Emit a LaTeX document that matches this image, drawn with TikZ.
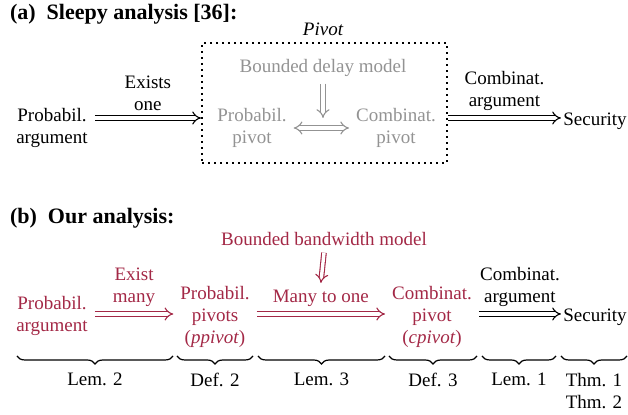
\documentclass[tikz,border=0pt]{standalone}
\usepackage{fontspec}
\setmainfont{Liberation Serif}
\usepackage{xcolor}
\usetikzlibrary{positioning,arrows.meta,decorations.pathreplacing,calc}
\definecolor{pivred}{HTML}{A32846}
\definecolor{oldgray}{HTML}{939393}

\begin{document}
\begin{tikzpicture}[x=0.5pt,y=-0.5pt,
    every node/.style={font=\fontsize{9.5}{11}\selectfont,align=center},
    titletext/.style={font=\fontsize{11}{13}\selectfont\bfseries,anchor=west},
    dblarrow/.style={double,double distance=1.7pt,line width=0.55pt,-{Implies}},
    lemmabrace/.style={decorate,decoration={brace,mirror,amplitude=4pt},line width=0.6pt}]
    \useasboundingbox (0,0) rectangle (628,415);

    % (a) Sleepy analysis
    \node[titletext] (tita) at (3,14) {(a)\enspace Sleepy analysis [36]:};
    \coordinate (ra) at (0,118);
    \node[draw,dotted,line width=1pt,minimum width=122.5pt,minimum height=60pt] (pivbox) at (324.5,103) {};
    \node[font=\fontsize{9.5}{11}\selectfont\itshape] (pivlbl) at (323,29) {Pivot};
    \node[oldgray] (bdm) at (323,68) {Bounded delay model};
    \node[oldgray] (ppa) at (252,128) {Probabil.\\pivot};
    \node[oldgray] (cpa) at (396,128) {Combinat.\\pivot};
    \draw[dblarrow,oldgray] (bdm.south) -- (bdm.south |- ra);
    \draw[dblarrow,oldgray,{Implies}-{Implies}] (ppa.east) -- (cpa.west);
    \node (pa) at (52,128) {Probabil.\\argument};
    \node[inner xsep=1pt] (seca) at (595,121) {Security};
    \draw[dblarrow] (pa.east |- ra) -- node[above] (exone) {Exists\\one} (pivbox.west |- ra);
    \draw[dblarrow] (pivbox.east |- ra) -- node[above] (comba) {Combinat.\\argument} (seca.west |- ra);

    % (b) Our analysis
    \node[titletext] (titb) at (3,218) {(b)\enspace Our analysis:};
    \coordinate (rb) at (0,314);
    \node[pivred] (bbm) at (324,239) {Bounded bandwidth model};
    \node[pivred] (pb) at (52,316) {Probabil.\\argument};
    \node[pivred] (pp) at (215,317) {Probabil.\\pivots\\(\emph{ppivot})};
    \node[pivred] (cp) at (432,317) {Combinat.\\pivot\\(\emph{cpivot})};
    \node[inner xsep=1pt] (secb) at (595,317) {Security};
    \draw[dblarrow,pivred] (pb.east |- rb) -- node[above] (exmany) {Exist\\many} (pp.west |- rb);
    \draw[dblarrow,pivred] (pp.east |- rb) -- node[above] (m2o) {Many to one} (cp.west |- rb);
    \draw[dblarrow] (cp.east |- rb) -- node[above] (combb) {Combinat.\\argument} (secb.west |- rb);
    \draw[dblarrow,pivred] (bbm.south) -- (m2o.north);

    % braces with references
    \draw[lemmabrace] (17,356) -- node[below=5pt] (lem2) {Lem. 2} (173,356);
    \draw[lemmabrace] (177,356) -- node[below=5pt] (def2) {Def. 2} (253,356);
    \draw[lemmabrace] (258,356) -- node[below=5pt] (lem3) {Lem. 3} (385,356);
    \draw[lemmabrace] (389,356) -- node[below=5pt] (def3) {Def. 3} (477,356);
    \draw[lemmabrace] (482,356) -- node[below=5pt] (lem1) {Lem. 1} (556,356);
    \draw[lemmabrace] (561,356) -- node[below=5pt,anchor=north] (thms) {Thm. 1\\Thm. 2} (627,356);
\end{tikzpicture}
\end{document}
